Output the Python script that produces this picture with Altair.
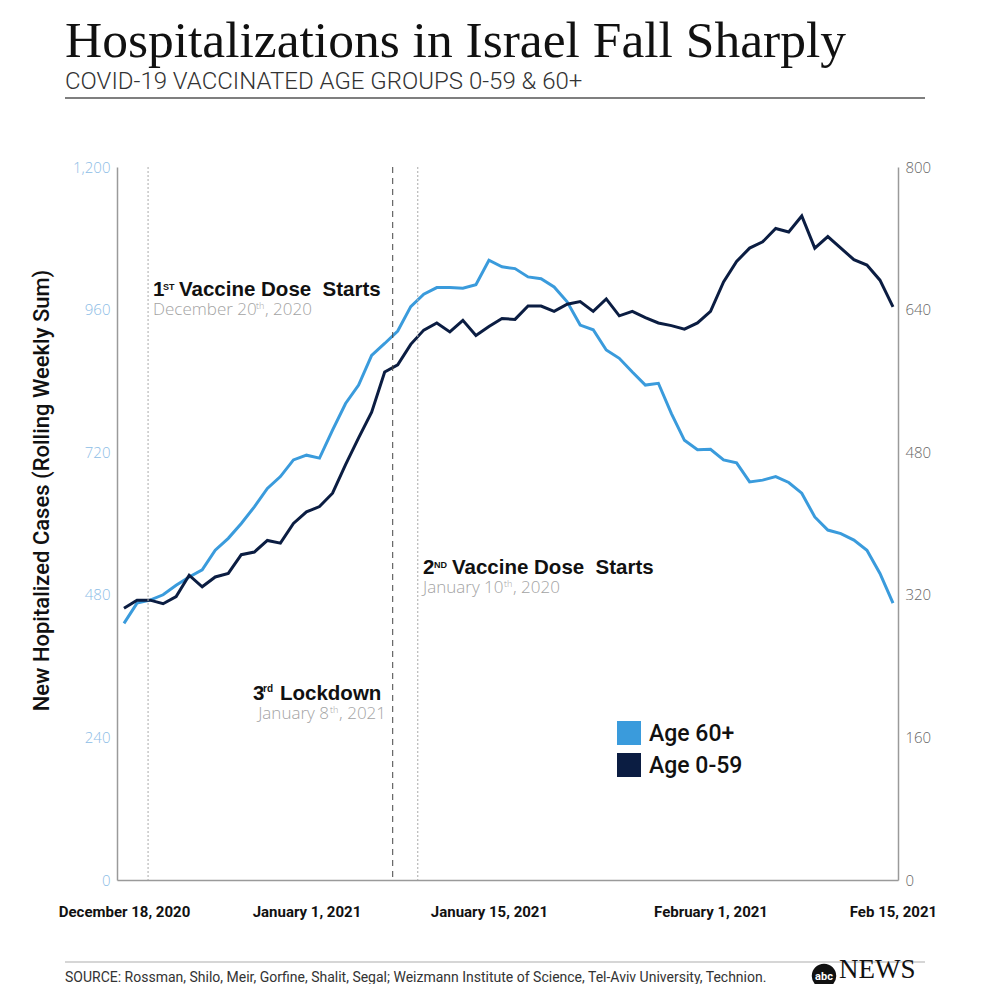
import altair as alt
import pandas as pd

# ---------------- data ----------------
title_text = "Hospitalizations in Israel Fall Sharply"
subtitle_text = "COVID-19 VACCINATED AGE GROUPS 0-59 & 60+"
source_text = ("SOURCE: Rossman, Shilo, Meir, Gorfine, Shalit, Segal; Weizmann Institute "
               "of Science, Tel-Aviv University, Technion.")
y_title = "New Hopitalized Cases (Rolling Weekly Sum)"

start_date = "2020-12-18"
age_60_plus = [432, 466, 471, 480, 496, 510, 522, 555, 575, 600,
               628, 659, 679, 707, 715, 710, 757, 802, 833, 883,
               903, 924, 965, 986, 997, 997, 996, 1002, 1043, 1032,
               1029, 1015, 1012, 998, 973, 934, 926, 892, 878, 855,
               833, 836, 785, 740, 724, 725, 707, 702, 670, 673,
               679, 669, 651, 611, 589, 583, 572, 555, 516, 466]
age_0_59 = [305, 314, 314, 310, 318, 342, 329, 340, 344, 365,
            368, 381, 378, 400, 413, 419, 434, 466, 496, 525,
            570, 578, 601, 617, 625, 615, 628, 611, 621, 630,
            629, 644, 644, 638, 646, 649, 638, 652, 633, 638,
            631, 625, 622, 618, 625, 638, 671, 694, 709, 716,
            731, 727, 745, 709, 722, 709, 696, 690, 673, 643]
series_names = ["Age 60+", "Age 0-59"]
series_colors = ["#3A9BDC", "#0B1D42"]

tick_dates = [(2020, 12, 18), (2021, 1, 1), (2021, 1, 15), (2021, 2, 1), (2021, 2, 15)]
tick_labels = ["December 18, 2020", "January 1, 2021", "January 15, 2021",
               "February 1, 2021", "Feb 15, 2021"]
left_ticks = [0, 240, 480, 720, 960, 1200]
right_ticks = [0, 160, 320, 480, 640, 800]

event_dates = ["2020-12-20", "2021-01-08", "2021-01-10"]

# ---------------- frames ----------------
dates = pd.date_range(start_date, periods=len(age_60_plus), freq="D")
df = pd.DataFrame({
    "date": list(dates) * 2,
    "value": age_60_plus + age_0_59,
    "series": [series_names[0]] * len(age_60_plus) + [series_names[1]] * len(age_0_59),
})
ev = pd.DataFrame({"date": pd.to_datetime(event_dates)})

# ---------------- scales / axes ----------------
FONT_LAB = "Open Sans"
label_expr = " : ".join(
    f"timeFormat(datum.value, '%Y-%m-%d') == '{y:04d}-{m:02d}-{d:02d}' ? '{lab}'"
    for (y, m, d), lab in zip(tick_dates, tick_labels)) + " : ''"

x_axis = alt.Axis(
    values=[alt.DateTime(year=y, month=m, date=d) for (y, m, d) in tick_dates],
    labelExpr=label_expr, ticks=False, grid=False, domainColor="#9a9a9a", domainWidth=1.5,
    labelFont="Roboto", labelFontSize=15, labelFontWeight="bold", labelColor="#111111",
    labelPadding=24, labelFlush=False, labelOverlap=False, title=None)
x_scale = alt.Scale(domain=[alt.DateTime(year=2020, month=12, date=17, hours=11, minutes=7),
                            alt.DateTime(year=2021, month=2, date=15, hours=9, minutes=13)])
x_enc = alt.X("date:T", scale=x_scale, axis=x_axis)

color_enc = alt.Color("series:N", scale=alt.Scale(domain=series_names, range=series_colors),
                      legend=None)

left_axis = alt.Axis(
    orient="left", values=left_ticks, format=",.0f", ticks=False, grid=False,
    domainColor="#9a9a9a", domainWidth=1.5, labelColor="#8DBDE6", labelFont=FONT_LAB,
    labelFontWeight=300, labelFontSize=15, labelPadding=7, labelFlush=False,
    title=y_title, titleFont="Roboto", titleFontSize=22, titleFontWeight=500,
    titleColor="#111111", titleX=-64, titleY=323)
right_axis = alt.Axis(
    orient="right", values=right_ticks, format=".0f", ticks=False, grid=False,
    domainColor="#9a9a9a", domainWidth=1.5, labelColor="#666666", labelFont=FONT_LAB,
    labelFontWeight=300, labelFontSize=15, labelPadding=7, labelFlush=False, title=None)

line60 = alt.Chart(df).transform_filter(alt.datum.series == series_names[0]).mark_line(
    strokeWidth=3).encode(
    x=x_enc,
    y=alt.Y("value:Q", scale=alt.Scale(domain=[0, 1200], nice=False), axis=left_axis),
    color=color_enc)
line059 = alt.Chart(df).transform_filter(alt.datum.series == series_names[1]).mark_line(
    strokeWidth=3).encode(
    x=x_enc,
    y=alt.Y("value:Q", scale=alt.Scale(domain=[0, 800], nice=False), axis=right_axis),
    color=color_enc)

rule_styles = [dict(strokeDash=[2, 2], color="#aaaaaa", xOffset=-2),
               dict(strokeDash=[6, 5], color="#444444", xOffset=-5),
               dict(strokeDash=[2, 2], color="#aaaaaa", xOffset=-6)]
rules = [alt.Chart(ev.iloc[[i]]).mark_rule(strokeWidth=1, **st).encode(x=x_enc)
         for i, st in enumerate(rule_styles)]


def txt(s, x, y, size, color="#111111", weight="normal", font="Roboto",
        align="left", baseline="alphabetic"):
    return alt.Chart(pd.DataFrame({"t": [s]})).mark_text(
        align=align, baseline=baseline, font=font, fontSize=size, fontWeight=weight,
        color=color).encode(x=alt.value(x), y=alt.value(y), text="t:N")


BOLD = "Liberation Sans"
LIGHT = "Open Sans"
GREY = "#a3a3a3"
NB = "\u00a0 "
BS = 20.5   # bold annotation size
LS = 17     # light annotation size
SS = 9      # superscript size

annots = [
    # 1st vaccine dose
    txt("1", 36, 129, BS, weight="bold", font=BOLD),
    txt("ST", 46, 123, SS, weight="bold", font=BOLD),
    txt("Vaccine Dose" + NB + "Starts", 62, 129, BS, weight="bold", font=BOLD),
    txt("December 20", 36, 148, LS, color=GREY, weight=300, font=LIGHT),
    txt("th", 139, 142, SS, color=GREY, weight=300, font=LIGHT),
    txt(", 2020", 148, 148, LS, color=GREY, weight=300, font=LIGHT),
    # 2nd vaccine dose
    txt("2", 306, 407, BS, weight="bold", font=BOLD),
    txt("ND", 317, 401, SS, weight="bold", font=BOLD),
    txt("Vaccine Dose" + NB + "Starts", 335, 407, BS, weight="bold", font=BOLD),
    txt("January 10", 306, 426, LS, color=GREY, weight=300, font=LIGHT),
    txt("th", 387, 420, SS, color=GREY, weight=300, font=LIGHT),
    txt(", 2020", 396, 426, LS, color=GREY, weight=300, font=LIGHT),
    # 3rd lockdown
    txt("3", 136, 533, BS, weight="bold", font=BOLD),
    txt("rd", 146, 525, SS + 1, weight="bold", font=BOLD),
    txt("Lockdown", 163, 533, BS, weight="bold", font=BOLD),
    txt("January 8", 212, 552, LS, color=GREY, weight=300, font=LIGHT, align="right"),
    txt("th", 213, 546, SS, color=GREY, weight=300, font=LIGHT),
    txt(", 2021", 269, 552, LS, color=GREY, weight=300, font=LIGHT, align="right"),
]

legend_layers = []
for k, (name, col) in enumerate(zip(series_names, series_colors)):
    y0 = 554 + 32 * k
    legend_layers.append(
        alt.Chart(pd.DataFrame({"t": [name]})).mark_rect(color=col).encode(
            x=alt.value(500), x2=alt.value(524), y=alt.value(y0), y2=alt.value(y0 + 24)))
    legend_layers.append(txt(name, 532, y0 + 20, 23, weight=500))

header = [
    txt(title_text, -52, -110, 51.5, font="Liberation Serif"),
    txt(subtitle_text, -52, -78, 24, color="#333333", weight=300),
    alt.Chart(pd.DataFrame({"t": [0]})).mark_rule(color="#555555", strokeWidth=1.5).encode(
        x=alt.value(-52), x2=alt.value(808), y=alt.value(-69)),
    alt.Chart(pd.DataFrame({"t": [0]})).mark_rule(color="#c8c8c8", strokeWidth=1.5).encode(
        x=alt.value(-52), x2=alt.value(808), y=alt.value(795)),
    txt(source_text, -52, 811, 14, color="#333333", baseline="middle"),
    alt.Chart(pd.DataFrame({"t": [0]})).mark_point(filled=True, shape="circle", color="#111111",
                                                    opacity=1).encode(
        x=alt.value(707), y=alt.value(809), size=alt.value(600)),
    txt("abc", 707, 810, 11, color="white", weight="bold", align="center", baseline="middle"),
    txt("NEWS", 722, 811, 27, font="Liberation Serif"),
]

chart = alt.layer(line60, line059, *rules, *annots, *legend_layers, *header).resolve_scale(
    y="independent"
).properties(
    width=781, height=713,
    autosize=alt.AutoSizeParams(type="none"),
    padding={"left": 109, "top": 159, "right": 86, "bottom": 104},
    background="white",
).configure_view(stroke=None)

chart.save("out.html", embed_options={"renderer": "svg", "actions": False})
